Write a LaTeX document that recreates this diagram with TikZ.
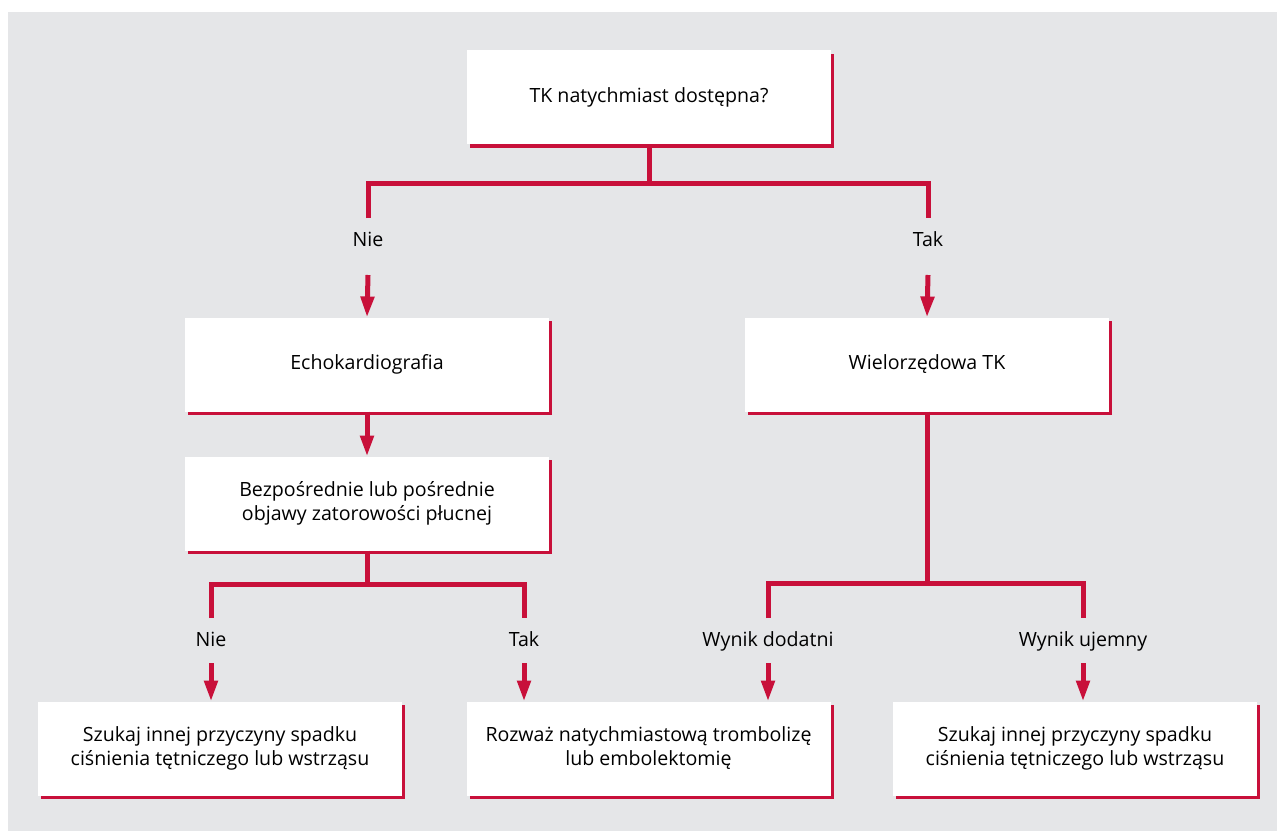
\documentclass[tikz,border=0pt]{standalone}
\usepackage{fontspec}
\setmainfont{Open Sans}
\usetikzlibrary{arrows.meta,shadows}
\definecolor{czerwony}{RGB}{200,16,58}
\definecolor{tlo}{RGB}{229,230,232}

\begin{document}
\begin{tikzpicture}[x=0.75pt,y=-0.75pt,
    box/.style={fill=white, text=black, minimum width=273pt, minimum height=70.5pt,
        inner sep=0pt, outer sep=0pt, align=center, font=\fontsize{14.7}{18}\selectfont,
        general shadow={fill=czerwony, shadow xshift=2.4pt, shadow yshift=-2.4pt}},
    lbl/.style={anchor=base, inner sep=0pt, outer sep=0pt, text=black,
        text height=21pt, text depth=12.75pt, font=\fontsize{14.7}{18}\selectfont},
    link/.style={draw=czerwony, line width=3.75pt},
    arr/.style={link, -{Triangle[width=9.75pt, length=15.75pt]}}]
    \useasboundingbox (0,0) rectangle (1277,831);
    \fill[tlo] (8,12) rectangle (1277,831);

    \node[box] (T) at (649,97.5) {TK natychmiast dostępna?};
    \node[box] (E) at (367,364.5) {Echokardiografia};
    \node[box] (W) at (927,364.5) {Wielorzędowa TK};
    \node[box] (B) at (367,503.5) {Bezpośrednie lub pośrednie\\objawy zatorowości płucnej};
    \node[box] (L) at (220,748.5) {Szukaj innej przyczyny spadku\\ciśnienia tętniczego lub wstrząsu};
    \node[box] (M) at (648.5,748.5) {Rozważ natychmiastową trombolizę\\lub embolektomię};
    \node[box] (R) at (1075,748.5) {Szukaj innej przyczyny spadku\\ciśnienia tętniczego lub wstrząsu};

    \node[lbl, text depth=21.75pt] (nie1) at (368,246) {Nie};
    \node[lbl, text depth=21.75pt] (tak1) at (928,246) {Tak};
    \node[lbl] (nie2) at (211,646) {Nie};
    \node[lbl] (tak2) at (524,646) {Tak};
    \node[lbl] (dod) at (768,646) {Wynik dodatni};
    \node[lbl] (uje) at (1083,646) {Wynik ujemny};

    \draw[link] (T.south) -- ++(0,39) coordinate (t);
    \draw[link] (nie1.north) |- (t) -| (tak1.north);
    \draw[link] (B.south) -- ++(0,34) coordinate (b);
    \draw[link] (nie2.north) |- (b) -| (tak2.north);
    \draw[link] (W.south) -- ++(0,172) coordinate (w);
    \draw[link] (dod.north) |- (w) -| (uje.north);

    \draw[arr] (nie1.south) -- (E.north);
    \draw[arr] (tak1.south) -- (W.north);
    \draw[arr] (E.south) -- (B.north);
    \draw[arr] (nie2.south) -- (nie2.south |- L.north);
    \draw[arr] (tak2.south) -- (tak2.south |- M.north);
    \draw[arr] (dod.south) -- (dod.south |- M.north);
    \draw[arr] (uje.south) -- (uje.south |- R.north);
\end{tikzpicture}
\end{document}
